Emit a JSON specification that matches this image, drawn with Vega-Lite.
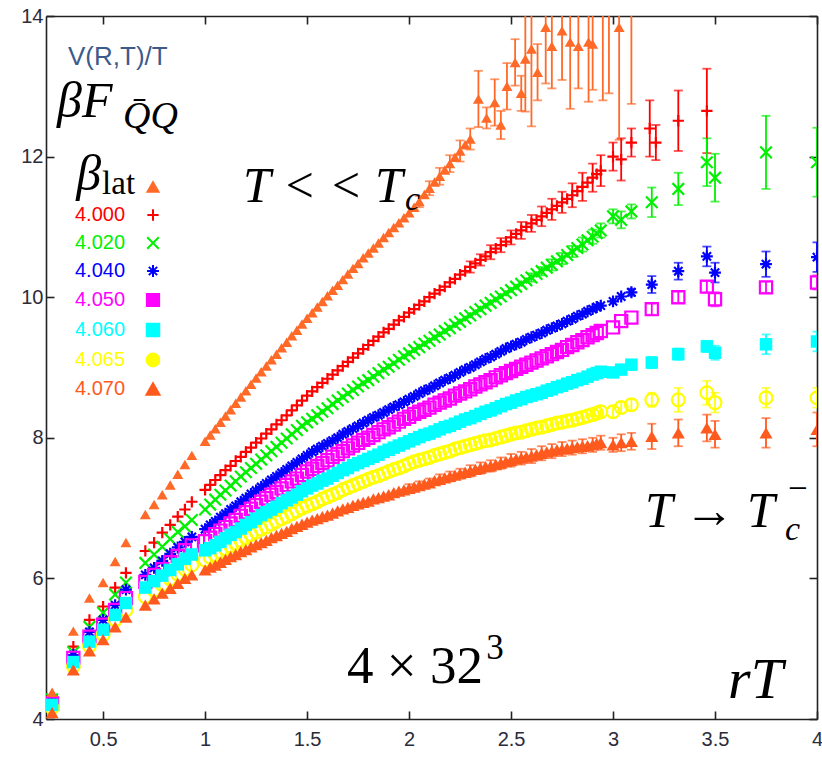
{
"$schema":"https://vega.github.io/schema/vega-lite/v6.json",
"width":771,"height":703,"autosize":"none",
"padding":{"left":46,"top":16,"right":5,"bottom":39},
"background":"white",
"config":{"view":{"stroke":null},
"axis":{"grid":false,"domainColor":"#222","domainWidth":1.6,"tickColor":"#222","tickWidth":1.6,"tickSize":-8,"labelFont":"Liberation Sans","labelFontSize":20,"labelColor":"#2b2b3b"}},
"datasets":{"pts":[
{"b":"T0","x":0.25,"y":4.38},{"b":"T0","x":0.354,"y":5.25},{"b":"T0","x":0.433,"y":5.72},{"b":"T0","x":0.5,"y":5.94},{"b":"T0","x":0.559,"y":6.24},{"b":"T0","x":0.612,"y":6.51},{"b":"T0","x":0.707,"y":6.91},{"b":"T0","x":0.75,"y":7.05},{"b":"T0","x":0.79,"y":7.19},{"b":"T0","x":0.829,"y":7.33},{"b":"T0","x":0.866,"y":7.48},{"b":"T0","x":0.901,"y":7.62},{"b":"T0","x":0.935,"y":7.75},{"b":"T0","x":1.0,"y":7.95},
{"b":"T0","x":1.05,"y":8.13},{"b":"T0","x":1.1,"y":8.31},{"b":"T0","x":1.15,"y":8.49},{"b":"T0","x":1.2,"y":8.67},{"b":"T0","x":1.25,"y":8.85},{"b":"T0","x":1.3,"y":9.02},{"b":"T0","x":1.35,"y":9.19},{"b":"T0","x":1.4,"y":9.36},{"b":"T0","x":1.45,"y":9.53},{"b":"T0","x":1.5,"y":9.7},{"b":"T0","x":1.55,"y":9.86},{"b":"T0","x":1.6,"y":10.02},{"b":"T0","x":1.65,"y":10.17},{"b":"T0","x":1.7,"y":10.33},{"b":"T0","x":1.75,"y":10.48},{"b":"T0","x":1.8,"y":10.63},{"b":"T0","x":1.85,"y":10.77},{"b":"T0","x":1.9,"y":10.92},{"b":"T0","x":1.95,"y":11.06},{"b":"T0","x":2.0,"y":11.2},{"b":"T0","x":2.05,"y":11.36,"e":0.08},{"b":"T0","x":2.1,"y":11.55,"e":0.1},{"b":"T0","x":2.15,"y":11.72,"e":0.12},{"b":"T0","x":2.2,"y":11.9,"e":0.12},{"b":"T0","x":2.25,"y":12.08,"e":0.15},{"b":"T0","x":2.3,"y":12.25,"e":0.15},
{"b":"T0","x":1.025,"y":8.04},{"b":"T0","x":1.075,"y":8.22},{"b":"T0","x":1.125,"y":8.4},{"b":"T0","x":1.175,"y":8.58},{"b":"T0","x":1.225,"y":8.76},{"b":"T0","x":1.275,"y":8.94},{"b":"T0","x":1.325,"y":9.11},{"b":"T0","x":1.375,"y":9.28},{"b":"T0","x":1.425,"y":9.45},{"b":"T0","x":1.475,"y":9.62},{"b":"T0","x":1.525,"y":9.78},{"b":"T0","x":1.575,"y":9.94},{"b":"T0","x":1.625,"y":10.1},{"b":"T0","x":1.675,"y":10.25},{"b":"T0","x":1.725,"y":10.41},{"b":"T0","x":1.775,"y":10.56},{"b":"T0","x":1.825,"y":10.7},{"b":"T0","x":1.875,"y":10.85},{"b":"T0","x":1.925,"y":10.99},{"b":"T0","x":1.975,"y":11.13},{"b":"T0","x":2.025,"y":11.28},{"b":"T0","x":2.075,"y":11.46},{"b":"T0","x":2.125,"y":11.64},{"b":"T0","x":2.175,"y":11.81},{"b":"T0","x":2.225,"y":11.99},{"b":"T0","x":2.275,"y":12.17},
{"b":"T0","x":2.34,"y":12.82,"e":0.4},{"b":"T0","x":2.38,"y":12.55,"e":0.15},{"b":"T0","x":2.42,"y":12.77,"e":0.33},{"b":"T0","x":2.45,"y":12.45,"e":0.2},{"b":"T0","x":2.48,"y":13.0,"e":0.33},{"b":"T0","x":2.52,"y":13.34,"e":0.33},{"b":"T0","x":2.55,"y":12.9,"e":0.25},{"b":"T0","x":2.57,"y":13.39,"e":0.75},{"b":"T0","x":2.6,"y":13.53,"e":1.1},{"b":"T0","x":2.63,"y":13.2,"e":0.4},{"b":"T0","x":2.67,"y":13.84,"e":0.8},{"b":"T0","x":2.7,"y":13.57,"e":0.6},{"b":"T0","x":2.75,"y":13.79,"e":0.7},{"b":"T0","x":2.79,"y":13.63,"e":0.95},{"b":"T0","x":2.83,"y":13.57,"e":0.6},{"b":"T0","x":2.88,"y":13.63,"e":0.85},{"b":"T0","x":2.9,"y":13.6,"e":0.65},{"b":"T0","x":2.95,"y":14.2,"e":1.4},{"b":"T0","x":2.98,"y":14.5,"e":1.6},{"b":"T0","x":3.03,"y":13.84,"e":1.6},{"b":"T0","x":3.09,"y":14.3,"e":1.55},
{"b":"4.000","x":0.25,"y":4.34},{"b":"4.000","x":0.354,"y":5.03},{"b":"4.000","x":0.433,"y":5.41},{"b":"4.000","x":0.5,"y":5.6},{"b":"4.000","x":0.559,"y":5.87},{"b":"4.000","x":0.612,"y":6.08},{"b":"4.000","x":0.707,"y":6.39},{"b":"4.000","x":0.75,"y":6.51},{"b":"4.000","x":0.79,"y":6.65},{"b":"4.000","x":0.829,"y":6.76},{"b":"4.000","x":0.866,"y":6.88},{"b":"4.000","x":0.901,"y":6.98},{"b":"4.000","x":0.935,"y":7.09},{"b":"4.000","x":1.0,"y":7.26},
{"b":"4.000","x":1.05,"y":7.4},{"b":"4.000","x":1.1,"y":7.54},{"b":"4.000","x":1.15,"y":7.67},{"b":"4.000","x":1.2,"y":7.8},{"b":"4.000","x":1.25,"y":7.93},{"b":"4.000","x":1.3,"y":8.06},{"b":"4.000","x":1.35,"y":8.19},{"b":"4.000","x":1.4,"y":8.32},{"b":"4.000","x":1.45,"y":8.46},{"b":"4.000","x":1.5,"y":8.6},{"b":"4.000","x":1.55,"y":8.72},{"b":"4.000","x":1.6,"y":8.84},{"b":"4.000","x":1.65,"y":8.96},{"b":"4.000","x":1.7,"y":9.08},{"b":"4.000","x":1.75,"y":9.2},{"b":"4.000","x":1.8,"y":9.32},{"b":"4.000","x":1.85,"y":9.44},{"b":"4.000","x":1.9,"y":9.55},{"b":"4.000","x":1.95,"y":9.67},{"b":"4.000","x":2.0,"y":9.78},{"b":"4.000","x":2.05,"y":9.89},{"b":"4.000","x":2.1,"y":10.0},{"b":"4.000","x":2.15,"y":10.1},{"b":"4.000","x":2.2,"y":10.21},{"b":"4.000","x":2.25,"y":10.32},{"b":"4.000","x":2.3,"y":10.43,"e":0.08},{"b":"4.000","x":2.35,"y":10.53,"e":0.08},{"b":"4.000","x":2.4,"y":10.64,"e":0.1},{"b":"4.000","x":2.45,"y":10.74,"e":0.1},{"b":"4.000","x":2.5,"y":10.85,"e":0.1},{"b":"4.000","x":2.55,"y":10.95,"e":0.12},{"b":"4.000","x":2.6,"y":11.05,"e":0.12},{"b":"4.000","x":2.65,"y":11.15,"e":0.14},{"b":"4.000","x":2.7,"y":11.25,"e":0.15},{"b":"4.000","x":2.75,"y":11.35,"e":0.15},{"b":"4.000","x":2.8,"y":11.45,"e":0.17},{"b":"4.000","x":2.85,"y":11.57,"e":0.2},{"b":"4.000","x":2.9,"y":11.7,"e":0.2},{"b":"4.000","x":2.94,"y":11.8,"e":0.22},
{"b":"4.000","x":1.025,"y":7.33},{"b":"4.000","x":1.075,"y":7.47},{"b":"4.000","x":1.125,"y":7.6},{"b":"4.000","x":1.175,"y":7.73},{"b":"4.000","x":1.225,"y":7.86},{"b":"4.000","x":1.275,"y":7.99},{"b":"4.000","x":1.325,"y":8.12},{"b":"4.000","x":1.375,"y":8.25},{"b":"4.000","x":1.425,"y":8.39},{"b":"4.000","x":1.475,"y":8.53},{"b":"4.000","x":1.525,"y":8.66},{"b":"4.000","x":1.575,"y":8.78},{"b":"4.000","x":1.625,"y":8.9},{"b":"4.000","x":1.675,"y":9.02},{"b":"4.000","x":1.725,"y":9.14},{"b":"4.000","x":1.775,"y":9.26},{"b":"4.000","x":1.825,"y":9.38},{"b":"4.000","x":1.875,"y":9.5},{"b":"4.000","x":1.925,"y":9.61},{"b":"4.000","x":1.975,"y":9.72},{"b":"4.000","x":2.025,"y":9.83},{"b":"4.000","x":2.075,"y":9.94},{"b":"4.000","x":2.125,"y":10.05},{"b":"4.000","x":2.175,"y":10.15},{"b":"4.000","x":2.225,"y":10.26},{"b":"4.000","x":2.275,"y":10.37},{"b":"4.000","x":2.325,"y":10.48},{"b":"4.000","x":2.375,"y":10.58},{"b":"4.000","x":2.425,"y":10.69},{"b":"4.000","x":2.475,"y":10.79},{"b":"4.000","x":2.525,"y":10.9},{"b":"4.000","x":2.575,"y":11.0},{"b":"4.000","x":2.625,"y":11.1},{"b":"4.000","x":2.675,"y":11.2},{"b":"4.000","x":2.725,"y":11.3},{"b":"4.000","x":2.775,"y":11.4},{"b":"4.000","x":2.825,"y":11.51},{"b":"4.000","x":2.875,"y":11.63},{"b":"4.000","x":2.92,"y":11.75},
{"b":"4.000","x":3.0,"y":12.0,"e":0.2},{"b":"4.000","x":3.04,"y":11.96,"e":0.3},{"b":"4.000","x":3.09,"y":12.2,"e":0.2},{"b":"4.000","x":3.18,"y":12.4,"e":0.4},{"b":"4.000","x":3.21,"y":12.2,"e":0.25},{"b":"4.000","x":3.32,"y":12.51,"e":0.43},{"b":"4.000","x":3.46,"y":12.65,"e":0.6},
{"b":"4.020","x":0.25,"y":4.28},{"b":"4.020","x":0.354,"y":4.95},{"b":"4.020","x":0.433,"y":5.31},{"b":"4.020","x":0.5,"y":5.51},{"b":"4.020","x":0.559,"y":5.77},{"b":"4.020","x":0.612,"y":5.94},{"b":"4.020","x":0.707,"y":6.22},{"b":"4.020","x":0.75,"y":6.34},{"b":"4.020","x":0.79,"y":6.45},{"b":"4.020","x":0.829,"y":6.56},{"b":"4.020","x":0.866,"y":6.66},{"b":"4.020","x":0.901,"y":6.74},{"b":"4.020","x":0.935,"y":6.83},{"b":"4.020","x":1.0,"y":6.98},
{"b":"4.020","x":1.05,"y":7.12},{"b":"4.020","x":1.1,"y":7.25},{"b":"4.020","x":1.15,"y":7.38},{"b":"4.020","x":1.2,"y":7.51},{"b":"4.020","x":1.25,"y":7.63},{"b":"4.020","x":1.3,"y":7.75},{"b":"4.020","x":1.35,"y":7.87},{"b":"4.020","x":1.4,"y":7.99},{"b":"4.020","x":1.45,"y":8.11},{"b":"4.020","x":1.5,"y":8.22},{"b":"4.020","x":1.55,"y":8.32},{"b":"4.020","x":1.6,"y":8.42},{"b":"4.020","x":1.65,"y":8.53},{"b":"4.020","x":1.7,"y":8.63},{"b":"4.020","x":1.75,"y":8.73},{"b":"4.020","x":1.8,"y":8.82},{"b":"4.020","x":1.85,"y":8.92},{"b":"4.020","x":1.9,"y":9.01},{"b":"4.020","x":1.95,"y":9.11},{"b":"4.020","x":2.0,"y":9.2},{"b":"4.020","x":2.05,"y":9.29},{"b":"4.020","x":2.1,"y":9.38},{"b":"4.020","x":2.15,"y":9.47},{"b":"4.020","x":2.2,"y":9.56},{"b":"4.020","x":2.25,"y":9.65},{"b":"4.020","x":2.3,"y":9.74},{"b":"4.020","x":2.35,"y":9.83},{"b":"4.020","x":2.4,"y":9.92},{"b":"4.020","x":2.45,"y":10.01},{"b":"4.020","x":2.5,"y":10.1},{"b":"4.020","x":2.55,"y":10.19},{"b":"4.020","x":2.6,"y":10.28,"e":0.06},{"b":"4.020","x":2.65,"y":10.37,"e":0.06},{"b":"4.020","x":2.7,"y":10.46,"e":0.08},{"b":"4.020","x":2.75,"y":10.55,"e":0.08},{"b":"4.020","x":2.8,"y":10.65,"e":0.08},{"b":"4.020","x":2.85,"y":10.75,"e":0.1},{"b":"4.020","x":2.9,"y":10.86,"e":0.1},{"b":"4.020","x":2.94,"y":10.95,"e":0.1},
{"b":"4.020","x":1.025,"y":7.05},{"b":"4.020","x":1.075,"y":7.19},{"b":"4.020","x":1.125,"y":7.32},{"b":"4.020","x":1.175,"y":7.45},{"b":"4.020","x":1.225,"y":7.57},{"b":"4.020","x":1.275,"y":7.69},{"b":"4.020","x":1.325,"y":7.81},{"b":"4.020","x":1.375,"y":7.93},{"b":"4.020","x":1.425,"y":8.05},{"b":"4.020","x":1.475,"y":8.17},{"b":"4.020","x":1.525,"y":8.27},{"b":"4.020","x":1.575,"y":8.37},{"b":"4.020","x":1.625,"y":8.48},{"b":"4.020","x":1.675,"y":8.58},{"b":"4.020","x":1.725,"y":8.68},{"b":"4.020","x":1.775,"y":8.78},{"b":"4.020","x":1.825,"y":8.87},{"b":"4.020","x":1.875,"y":8.97},{"b":"4.020","x":1.925,"y":9.06},{"b":"4.020","x":1.975,"y":9.16},{"b":"4.020","x":2.025,"y":9.25},{"b":"4.020","x":2.075,"y":9.34},{"b":"4.020","x":2.125,"y":9.43},{"b":"4.020","x":2.175,"y":9.52},{"b":"4.020","x":2.225,"y":9.61},{"b":"4.020","x":2.275,"y":9.7},{"b":"4.020","x":2.325,"y":9.79},{"b":"4.020","x":2.375,"y":9.88},{"b":"4.020","x":2.425,"y":9.97},{"b":"4.020","x":2.475,"y":10.06},{"b":"4.020","x":2.525,"y":10.15},{"b":"4.020","x":2.575,"y":10.24},{"b":"4.020","x":2.625,"y":10.33},{"b":"4.020","x":2.675,"y":10.42},{"b":"4.020","x":2.725,"y":10.51},{"b":"4.020","x":2.775,"y":10.6},{"b":"4.020","x":2.825,"y":10.7},{"b":"4.020","x":2.875,"y":10.81},{"b":"4.020","x":2.92,"y":10.91},
{"b":"4.020","x":3.0,"y":11.15,"e":0.1},{"b":"4.020","x":3.04,"y":11.1,"e":0.12},{"b":"4.020","x":3.09,"y":11.22,"e":0.1},{"b":"4.020","x":3.19,"y":11.35,"e":0.21},{"b":"4.020","x":3.32,"y":11.54,"e":0.23},{"b":"4.020","x":3.46,"y":11.92,"e":0.34},{"b":"4.020","x":3.5,"y":11.7,"e":0.34},{"b":"4.020","x":3.75,"y":12.06,"e":0.52},{"b":"4.020","x":4.0,"y":11.92,"e":0.49},
{"b":"4.040","x":0.25,"y":4.24},{"b":"4.040","x":0.354,"y":4.91},{"b":"4.040","x":0.433,"y":5.24},{"b":"4.040","x":0.5,"y":5.41},{"b":"4.040","x":0.559,"y":5.62},{"b":"4.040","x":0.612,"y":5.84},{"b":"4.040","x":0.707,"y":6.05},{"b":"4.040","x":0.75,"y":6.15},{"b":"4.040","x":0.79,"y":6.25},{"b":"4.040","x":0.829,"y":6.35},{"b":"4.040","x":0.866,"y":6.44},{"b":"4.040","x":0.901,"y":6.52},{"b":"4.040","x":0.935,"y":6.59},{"b":"4.040","x":1.0,"y":6.7},
{"b":"4.040","x":1.05,"y":6.81},{"b":"4.040","x":1.1,"y":6.92},{"b":"4.040","x":1.15,"y":7.03},{"b":"4.040","x":1.2,"y":7.14},{"b":"4.040","x":1.25,"y":7.25},{"b":"4.040","x":1.3,"y":7.35},{"b":"4.040","x":1.35,"y":7.45},{"b":"4.040","x":1.4,"y":7.55},{"b":"4.040","x":1.45,"y":7.65},{"b":"4.040","x":1.5,"y":7.75},{"b":"4.040","x":1.55,"y":7.84},{"b":"4.040","x":1.6,"y":7.92},{"b":"4.040","x":1.65,"y":8.0},{"b":"4.040","x":1.7,"y":8.09},{"b":"4.040","x":1.75,"y":8.17},{"b":"4.040","x":1.8,"y":8.25},{"b":"4.040","x":1.85,"y":8.32},{"b":"4.040","x":1.9,"y":8.4},{"b":"4.040","x":1.95,"y":8.47},{"b":"4.040","x":2.0,"y":8.55},{"b":"4.040","x":2.05,"y":8.63},{"b":"4.040","x":2.1,"y":8.7},{"b":"4.040","x":2.15,"y":8.78},{"b":"4.040","x":2.2,"y":8.85},{"b":"4.040","x":2.25,"y":8.93},{"b":"4.040","x":2.3,"y":9.0},{"b":"4.040","x":2.35,"y":9.08},{"b":"4.040","x":2.4,"y":9.15},{"b":"4.040","x":2.45,"y":9.23},{"b":"4.040","x":2.5,"y":9.3},{"b":"4.040","x":2.55,"y":9.36},{"b":"4.040","x":2.6,"y":9.43},{"b":"4.040","x":2.65,"y":9.49},{"b":"4.040","x":2.7,"y":9.56},{"b":"4.040","x":2.75,"y":9.62},{"b":"4.040","x":2.8,"y":9.69},{"b":"4.040","x":2.85,"y":9.76},{"b":"4.040","x":2.9,"y":9.83},{"b":"4.040","x":2.94,"y":9.88},
{"b":"4.040","x":1.025,"y":6.76},{"b":"4.040","x":1.075,"y":6.87},{"b":"4.040","x":1.125,"y":6.98},{"b":"4.040","x":1.175,"y":7.09},{"b":"4.040","x":1.225,"y":7.2},{"b":"4.040","x":1.275,"y":7.3},{"b":"4.040","x":1.325,"y":7.4},{"b":"4.040","x":1.375,"y":7.5},{"b":"4.040","x":1.425,"y":7.6},{"b":"4.040","x":1.475,"y":7.7},{"b":"4.040","x":1.525,"y":7.8},{"b":"4.040","x":1.575,"y":7.88},{"b":"4.040","x":1.625,"y":7.96},{"b":"4.040","x":1.675,"y":8.05},{"b":"4.040","x":1.725,"y":8.13},{"b":"4.040","x":1.775,"y":8.21},{"b":"4.040","x":1.825,"y":8.29},{"b":"4.040","x":1.875,"y":8.36},{"b":"4.040","x":1.925,"y":8.44},{"b":"4.040","x":1.975,"y":8.51},{"b":"4.040","x":2.025,"y":8.59},{"b":"4.040","x":2.075,"y":8.67},{"b":"4.040","x":2.125,"y":8.74},{"b":"4.040","x":2.175,"y":8.82},{"b":"4.040","x":2.225,"y":8.89},{"b":"4.040","x":2.275,"y":8.97},{"b":"4.040","x":2.325,"y":9.04},{"b":"4.040","x":2.375,"y":9.12},{"b":"4.040","x":2.425,"y":9.19},{"b":"4.040","x":2.475,"y":9.27},{"b":"4.040","x":2.525,"y":9.33},{"b":"4.040","x":2.575,"y":9.4},{"b":"4.040","x":2.625,"y":9.46},{"b":"4.040","x":2.675,"y":9.53},{"b":"4.040","x":2.725,"y":9.59},{"b":"4.040","x":2.775,"y":9.66},{"b":"4.040","x":2.825,"y":9.73},{"b":"4.040","x":2.875,"y":9.8},{"b":"4.040","x":2.92,"y":9.86},
{"b":"4.040","x":3.0,"y":9.94},{"b":"4.040","x":3.04,"y":10.01},{"b":"4.040","x":3.09,"y":10.07,"e":0.05},{"b":"4.040","x":3.19,"y":10.18,"e":0.12},{"b":"4.040","x":3.32,"y":10.37,"e":0.12},{"b":"4.040","x":3.46,"y":10.58,"e":0.14},{"b":"4.040","x":3.5,"y":10.35,"e":0.14},{"b":"4.040","x":3.75,"y":10.47,"e":0.18},{"b":"4.040","x":4.0,"y":10.57,"e":0.21},
{"b":"4.050","x":0.25,"y":4.22},{"b":"4.050","x":0.354,"y":4.87},{"b":"4.050","x":0.433,"y":5.17},{"b":"4.050","x":0.5,"y":5.34},{"b":"4.050","x":0.559,"y":5.55},{"b":"4.050","x":0.612,"y":5.72},{"b":"4.050","x":0.707,"y":5.95},{"b":"4.050","x":0.75,"y":6.05},{"b":"4.050","x":0.79,"y":6.13},{"b":"4.050","x":0.829,"y":6.23},{"b":"4.050","x":0.866,"y":6.32},{"b":"4.050","x":0.901,"y":6.4},{"b":"4.050","x":0.935,"y":6.47},{"b":"4.050","x":1.0,"y":6.53},
{"b":"4.050","x":1.05,"y":6.63},{"b":"4.050","x":1.1,"y":6.73},{"b":"4.050","x":1.15,"y":6.83},{"b":"4.050","x":1.2,"y":6.94},{"b":"4.050","x":1.25,"y":7.04},{"b":"4.050","x":1.3,"y":7.14},{"b":"4.050","x":1.35,"y":7.23},{"b":"4.050","x":1.4,"y":7.33},{"b":"4.050","x":1.45,"y":7.42},{"b":"4.050","x":1.5,"y":7.52},{"b":"4.050","x":1.55,"y":7.6},{"b":"4.050","x":1.6,"y":7.68},{"b":"4.050","x":1.65,"y":7.77},{"b":"4.050","x":1.7,"y":7.85},{"b":"4.050","x":1.75,"y":7.93},{"b":"4.050","x":1.8,"y":8.0},{"b":"4.050","x":1.85,"y":8.08},{"b":"4.050","x":1.9,"y":8.15},{"b":"4.050","x":1.95,"y":8.23},{"b":"4.050","x":2.0,"y":8.3},{"b":"4.050","x":2.05,"y":8.37},{"b":"4.050","x":2.1,"y":8.43},{"b":"4.050","x":2.15,"y":8.5},{"b":"4.050","x":2.2,"y":8.56},{"b":"4.050","x":2.25,"y":8.63},{"b":"4.050","x":2.3,"y":8.69},{"b":"4.050","x":2.35,"y":8.76},{"b":"4.050","x":2.4,"y":8.82},{"b":"4.050","x":2.45,"y":8.89},{"b":"4.050","x":2.5,"y":8.95},{"b":"4.050","x":2.55,"y":9.01},{"b":"4.050","x":2.6,"y":9.07},{"b":"4.050","x":2.65,"y":9.13},{"b":"4.050","x":2.7,"y":9.19},{"b":"4.050","x":2.75,"y":9.25},{"b":"4.050","x":2.8,"y":9.32},{"b":"4.050","x":2.85,"y":9.39},{"b":"4.050","x":2.9,"y":9.46},{"b":"4.050","x":2.94,"y":9.52},
{"b":"4.050","x":1.025,"y":6.58},{"b":"4.050","x":1.075,"y":6.68},{"b":"4.050","x":1.125,"y":6.78},{"b":"4.050","x":1.175,"y":6.89},{"b":"4.050","x":1.225,"y":6.99},{"b":"4.050","x":1.275,"y":7.09},{"b":"4.050","x":1.325,"y":7.19},{"b":"4.050","x":1.375,"y":7.28},{"b":"4.050","x":1.425,"y":7.38},{"b":"4.050","x":1.475,"y":7.47},{"b":"4.050","x":1.525,"y":7.56},{"b":"4.050","x":1.575,"y":7.64},{"b":"4.050","x":1.625,"y":7.73},{"b":"4.050","x":1.675,"y":7.81},{"b":"4.050","x":1.725,"y":7.89},{"b":"4.050","x":1.775,"y":7.97},{"b":"4.050","x":1.825,"y":8.04},{"b":"4.050","x":1.875,"y":8.12},{"b":"4.050","x":1.925,"y":8.19},{"b":"4.050","x":1.975,"y":8.27},{"b":"4.050","x":2.025,"y":8.34},{"b":"4.050","x":2.075,"y":8.4},{"b":"4.050","x":2.125,"y":8.47},{"b":"4.050","x":2.175,"y":8.53},{"b":"4.050","x":2.225,"y":8.6},{"b":"4.050","x":2.275,"y":8.66},{"b":"4.050","x":2.325,"y":8.73},{"b":"4.050","x":2.375,"y":8.79},{"b":"4.050","x":2.425,"y":8.86},{"b":"4.050","x":2.475,"y":8.92},{"b":"4.050","x":2.525,"y":8.98},{"b":"4.050","x":2.575,"y":9.04},{"b":"4.050","x":2.625,"y":9.1},{"b":"4.050","x":2.675,"y":9.16},{"b":"4.050","x":2.725,"y":9.22},{"b":"4.050","x":2.775,"y":9.29},{"b":"4.050","x":2.825,"y":9.36},{"b":"4.050","x":2.875,"y":9.43},{"b":"4.050","x":2.92,"y":9.49},
{"b":"4.050","x":3.0,"y":9.57},{"b":"4.050","x":3.04,"y":9.66},{"b":"4.050","x":3.09,"y":9.71},{"b":"4.050","x":3.19,"y":9.83,"e":0.08},{"b":"4.050","x":3.32,"y":10.0,"e":0.08},{"b":"4.050","x":3.46,"y":10.15,"e":0.08},{"b":"4.050","x":3.5,"y":9.97,"e":0.1},{"b":"4.050","x":3.75,"y":10.14,"e":0.08},{"b":"4.050","x":4.0,"y":10.21,"e":0.1},
{"b":"4.060","x":0.25,"y":4.2},{"b":"4.060","x":0.354,"y":4.81},{"b":"4.060","x":0.433,"y":5.1},{"b":"4.060","x":0.5,"y":5.27},{"b":"4.060","x":0.559,"y":5.48},{"b":"4.060","x":0.612,"y":5.65},{"b":"4.060","x":0.707,"y":5.87},{"b":"4.060","x":0.75,"y":5.96},{"b":"4.060","x":0.79,"y":6.04},{"b":"4.060","x":0.829,"y":6.12},{"b":"4.060","x":0.866,"y":6.2},{"b":"4.060","x":0.901,"y":6.28},{"b":"4.060","x":0.935,"y":6.34},{"b":"4.060","x":1.0,"y":6.4},
{"b":"4.060","x":1.05,"y":6.47},{"b":"4.060","x":1.1,"y":6.57},{"b":"4.060","x":1.15,"y":6.66},{"b":"4.060","x":1.2,"y":6.76},{"b":"4.060","x":1.25,"y":6.85},{"b":"4.060","x":1.3,"y":6.94},{"b":"4.060","x":1.35,"y":7.02},{"b":"4.060","x":1.4,"y":7.11},{"b":"4.060","x":1.45,"y":7.19},{"b":"4.060","x":1.5,"y":7.28},{"b":"4.060","x":1.55,"y":7.35},{"b":"4.060","x":1.6,"y":7.42},{"b":"4.060","x":1.65,"y":7.5},{"b":"4.060","x":1.7,"y":7.57},{"b":"4.060","x":1.75,"y":7.64},{"b":"4.060","x":1.8,"y":7.7},{"b":"4.060","x":1.85,"y":7.76},{"b":"4.060","x":1.9,"y":7.83},{"b":"4.060","x":1.95,"y":7.89},{"b":"4.060","x":2.0,"y":7.95},{"b":"4.060","x":2.05,"y":8.01},{"b":"4.060","x":2.1,"y":8.06},{"b":"4.060","x":2.15,"y":8.12},{"b":"4.060","x":2.2,"y":8.17},{"b":"4.060","x":2.25,"y":8.23},{"b":"4.060","x":2.3,"y":8.28},{"b":"4.060","x":2.35,"y":8.34},{"b":"4.060","x":2.4,"y":8.39},{"b":"4.060","x":2.45,"y":8.45},{"b":"4.060","x":2.5,"y":8.5},{"b":"4.060","x":2.55,"y":8.55},{"b":"4.060","x":2.6,"y":8.6},{"b":"4.060","x":2.65,"y":8.64},{"b":"4.060","x":2.7,"y":8.69},{"b":"4.060","x":2.75,"y":8.74},{"b":"4.060","x":2.8,"y":8.79},{"b":"4.060","x":2.85,"y":8.84},{"b":"4.060","x":2.9,"y":8.9},{"b":"4.060","x":2.94,"y":8.94},
{"b":"4.060","x":1.025,"y":6.43},{"b":"4.060","x":1.075,"y":6.52},{"b":"4.060","x":1.125,"y":6.62},{"b":"4.060","x":1.175,"y":6.71},{"b":"4.060","x":1.225,"y":6.8},{"b":"4.060","x":1.275,"y":6.9},{"b":"4.060","x":1.325,"y":6.98},{"b":"4.060","x":1.375,"y":7.07},{"b":"4.060","x":1.425,"y":7.15},{"b":"4.060","x":1.475,"y":7.24},{"b":"4.060","x":1.525,"y":7.32},{"b":"4.060","x":1.575,"y":7.39},{"b":"4.060","x":1.625,"y":7.46},{"b":"4.060","x":1.675,"y":7.54},{"b":"4.060","x":1.725,"y":7.61},{"b":"4.060","x":1.775,"y":7.67},{"b":"4.060","x":1.825,"y":7.73},{"b":"4.060","x":1.875,"y":7.8},{"b":"4.060","x":1.925,"y":7.86},{"b":"4.060","x":1.975,"y":7.92},{"b":"4.060","x":2.025,"y":7.98},{"b":"4.060","x":2.075,"y":8.04},{"b":"4.060","x":2.125,"y":8.09},{"b":"4.060","x":2.175,"y":8.15},{"b":"4.060","x":2.225,"y":8.2},{"b":"4.060","x":2.275,"y":8.26},{"b":"4.060","x":2.325,"y":8.31},{"b":"4.060","x":2.375,"y":8.37},{"b":"4.060","x":2.425,"y":8.42},{"b":"4.060","x":2.475,"y":8.48},{"b":"4.060","x":2.525,"y":8.53},{"b":"4.060","x":2.575,"y":8.58},{"b":"4.060","x":2.625,"y":8.62},{"b":"4.060","x":2.675,"y":8.67},{"b":"4.060","x":2.725,"y":8.72},{"b":"4.060","x":2.775,"y":8.77},{"b":"4.060","x":2.825,"y":8.82},{"b":"4.060","x":2.875,"y":8.87},{"b":"4.060","x":2.92,"y":8.92},
{"b":"4.060","x":3.0,"y":8.93},{"b":"4.060","x":3.04,"y":8.97},{"b":"4.060","x":3.09,"y":9.04},{"b":"4.060","x":3.19,"y":9.07,"e":0.08},{"b":"4.060","x":3.32,"y":9.19,"e":0.08},{"b":"4.060","x":3.46,"y":9.3,"e":0.08},{"b":"4.060","x":3.5,"y":9.21,"e":0.1},{"b":"4.060","x":3.75,"y":9.33,"e":0.14},{"b":"4.060","x":4.0,"y":9.37,"e":0.14},
{"b":"4.065","x":0.25,"y":4.16},{"b":"4.065","x":0.354,"y":4.75},{"b":"4.065","x":0.433,"y":5.04},{"b":"4.065","x":0.5,"y":5.2},{"b":"4.065","x":0.559,"y":5.41},{"b":"4.065","x":0.612,"y":5.55},{"b":"4.065","x":0.707,"y":5.74},{"b":"4.065","x":0.75,"y":5.83},{"b":"4.065","x":0.79,"y":5.91},{"b":"4.065","x":0.829,"y":5.99},{"b":"4.065","x":0.866,"y":6.06},{"b":"4.065","x":0.901,"y":6.13},{"b":"4.065","x":0.935,"y":6.19},{"b":"4.065","x":1.0,"y":6.26},
{"b":"4.065","x":1.05,"y":6.33},{"b":"4.065","x":1.1,"y":6.42},{"b":"4.065","x":1.15,"y":6.5},{"b":"4.065","x":1.2,"y":6.58},{"b":"4.065","x":1.25,"y":6.66},{"b":"4.065","x":1.3,"y":6.73},{"b":"4.065","x":1.35,"y":6.81},{"b":"4.065","x":1.4,"y":6.88},{"b":"4.065","x":1.45,"y":6.96},{"b":"4.065","x":1.5,"y":7.03},{"b":"4.065","x":1.55,"y":7.09},{"b":"4.065","x":1.6,"y":7.16},{"b":"4.065","x":1.65,"y":7.22},{"b":"4.065","x":1.7,"y":7.29},{"b":"4.065","x":1.75,"y":7.35},{"b":"4.065","x":1.8,"y":7.41},{"b":"4.065","x":1.85,"y":7.46},{"b":"4.065","x":1.9,"y":7.52},{"b":"4.065","x":1.95,"y":7.57},{"b":"4.065","x":2.0,"y":7.63},{"b":"4.065","x":2.05,"y":7.68},{"b":"4.065","x":2.1,"y":7.72},{"b":"4.065","x":2.15,"y":7.77},{"b":"4.065","x":2.2,"y":7.81},{"b":"4.065","x":2.25,"y":7.86},{"b":"4.065","x":2.3,"y":7.9},{"b":"4.065","x":2.35,"y":7.94},{"b":"4.065","x":2.4,"y":7.97},{"b":"4.065","x":2.45,"y":8.01},{"b":"4.065","x":2.5,"y":8.05,"e":0.06},{"b":"4.065","x":2.55,"y":8.08,"e":0.06},{"b":"4.065","x":2.6,"y":8.12,"e":0.06},{"b":"4.065","x":2.65,"y":8.15,"e":0.07},{"b":"4.065","x":2.7,"y":8.19,"e":0.07},{"b":"4.065","x":2.75,"y":8.22,"e":0.07},{"b":"4.065","x":2.8,"y":8.25,"e":0.08},{"b":"4.065","x":2.85,"y":8.29,"e":0.08},{"b":"4.065","x":2.9,"y":8.33,"e":0.08},{"b":"4.065","x":2.94,"y":8.37,"e":0.08},
{"b":"4.065","x":1.025,"y":6.3},{"b":"4.065","x":1.075,"y":6.38},{"b":"4.065","x":1.125,"y":6.46},{"b":"4.065","x":1.175,"y":6.54},{"b":"4.065","x":1.225,"y":6.62},{"b":"4.065","x":1.275,"y":6.7},{"b":"4.065","x":1.325,"y":6.77},{"b":"4.065","x":1.375,"y":6.85},{"b":"4.065","x":1.425,"y":6.92},{"b":"4.065","x":1.475,"y":7.0},{"b":"4.065","x":1.525,"y":7.06},{"b":"4.065","x":1.575,"y":7.13},{"b":"4.065","x":1.625,"y":7.19},{"b":"4.065","x":1.675,"y":7.26},{"b":"4.065","x":1.725,"y":7.32},{"b":"4.065","x":1.775,"y":7.38},{"b":"4.065","x":1.825,"y":7.44},{"b":"4.065","x":1.875,"y":7.49},{"b":"4.065","x":1.925,"y":7.55},{"b":"4.065","x":1.975,"y":7.6},{"b":"4.065","x":2.025,"y":7.66},{"b":"4.065","x":2.075,"y":7.7},{"b":"4.065","x":2.125,"y":7.75},{"b":"4.065","x":2.175,"y":7.79},{"b":"4.065","x":2.225,"y":7.84},{"b":"4.065","x":2.275,"y":7.88},{"b":"4.065","x":2.325,"y":7.92},{"b":"4.065","x":2.375,"y":7.96},{"b":"4.065","x":2.425,"y":7.99},{"b":"4.065","x":2.475,"y":8.03},{"b":"4.065","x":2.525,"y":8.07},{"b":"4.065","x":2.575,"y":8.1},{"b":"4.065","x":2.625,"y":8.14},{"b":"4.065","x":2.675,"y":8.17},{"b":"4.065","x":2.725,"y":8.21},{"b":"4.065","x":2.775,"y":8.24},{"b":"4.065","x":2.825,"y":8.27},{"b":"4.065","x":2.875,"y":8.31},{"b":"4.065","x":2.92,"y":8.35},
{"b":"4.065","x":3.0,"y":8.37,"e":0.08},{"b":"4.065","x":3.04,"y":8.43,"e":0.08},{"b":"4.065","x":3.09,"y":8.47,"e":0.08},{"b":"4.065","x":3.19,"y":8.54,"e":0.1},{"b":"4.065","x":3.32,"y":8.54,"e":0.17},{"b":"4.065","x":3.46,"y":8.64,"e":0.17},{"b":"4.065","x":3.5,"y":8.5,"e":0.14},{"b":"4.065","x":3.75,"y":8.57,"e":0.14},{"b":"4.065","x":4.0,"y":8.57,"e":0.14},
{"b":"4.070","x":0.25,"y":4.09},{"b":"4.070","x":0.354,"y":4.7},{"b":"4.070","x":0.433,"y":4.97},{"b":"4.070","x":0.5,"y":5.13},{"b":"4.070","x":0.559,"y":5.31},{"b":"4.070","x":0.612,"y":5.45},{"b":"4.070","x":0.707,"y":5.62},{"b":"4.070","x":0.75,"y":5.71},{"b":"4.070","x":0.79,"y":5.79},{"b":"4.070","x":0.829,"y":5.86},{"b":"4.070","x":0.866,"y":5.93},{"b":"4.070","x":0.901,"y":6.0},{"b":"4.070","x":0.935,"y":6.05},{"b":"4.070","x":1.0,"y":6.12},
{"b":"4.070","x":1.05,"y":6.19},{"b":"4.070","x":1.1,"y":6.27},{"b":"4.070","x":1.15,"y":6.34},{"b":"4.070","x":1.2,"y":6.41},{"b":"4.070","x":1.25,"y":6.48},{"b":"4.070","x":1.3,"y":6.54},{"b":"4.070","x":1.35,"y":6.61},{"b":"4.070","x":1.4,"y":6.67},{"b":"4.070","x":1.45,"y":6.74},{"b":"4.070","x":1.5,"y":6.8},{"b":"4.070","x":1.55,"y":6.85},{"b":"4.070","x":1.6,"y":6.9},{"b":"4.070","x":1.65,"y":6.96},{"b":"4.070","x":1.7,"y":7.01},{"b":"4.070","x":1.75,"y":7.06},{"b":"4.070","x":1.8,"y":7.1},{"b":"4.070","x":1.85,"y":7.15},{"b":"4.070","x":1.9,"y":7.19},{"b":"4.070","x":1.95,"y":7.24},{"b":"4.070","x":2.0,"y":7.28,"e":0.06},{"b":"4.070","x":2.05,"y":7.32,"e":0.06},{"b":"4.070","x":2.1,"y":7.36,"e":0.06},{"b":"4.070","x":2.15,"y":7.41,"e":0.07},{"b":"4.070","x":2.2,"y":7.45,"e":0.07},{"b":"4.070","x":2.25,"y":7.49,"e":0.07},{"b":"4.070","x":2.3,"y":7.53,"e":0.08},{"b":"4.070","x":2.35,"y":7.57,"e":0.08},{"b":"4.070","x":2.4,"y":7.6,"e":0.08},{"b":"4.070","x":2.45,"y":7.64,"e":0.08},{"b":"4.070","x":2.5,"y":7.68,"e":0.09},{"b":"4.070","x":2.55,"y":7.71,"e":0.09},{"b":"4.070","x":2.6,"y":7.74,"e":0.1},{"b":"4.070","x":2.65,"y":7.78,"e":0.1},{"b":"4.070","x":2.7,"y":7.81,"e":0.1},{"b":"4.070","x":2.75,"y":7.84,"e":0.1},{"b":"4.070","x":2.8,"y":7.86,"e":0.1},{"b":"4.070","x":2.85,"y":7.88,"e":0.1},{"b":"4.070","x":2.9,"y":7.9,"e":0.1},{"b":"4.070","x":2.94,"y":7.93,"e":0.1},
{"b":"4.070","x":1.025,"y":6.16},{"b":"4.070","x":1.075,"y":6.23},{"b":"4.070","x":1.125,"y":6.31},{"b":"4.070","x":1.175,"y":6.38},{"b":"4.070","x":1.225,"y":6.45},{"b":"4.070","x":1.275,"y":6.51},{"b":"4.070","x":1.325,"y":6.58},{"b":"4.070","x":1.375,"y":6.64},{"b":"4.070","x":1.425,"y":6.71},{"b":"4.070","x":1.475,"y":6.77},{"b":"4.070","x":1.525,"y":6.83},{"b":"4.070","x":1.575,"y":6.88},{"b":"4.070","x":1.625,"y":6.93},{"b":"4.070","x":1.675,"y":6.99},{"b":"4.070","x":1.725,"y":7.04},{"b":"4.070","x":1.775,"y":7.08},{"b":"4.070","x":1.825,"y":7.13},{"b":"4.070","x":1.875,"y":7.17},{"b":"4.070","x":1.925,"y":7.22},{"b":"4.070","x":1.975,"y":7.26},{"b":"4.070","x":2.025,"y":7.3},{"b":"4.070","x":2.075,"y":7.34},{"b":"4.070","x":2.125,"y":7.39},{"b":"4.070","x":2.175,"y":7.43},{"b":"4.070","x":2.225,"y":7.47},{"b":"4.070","x":2.275,"y":7.51},{"b":"4.070","x":2.325,"y":7.55},{"b":"4.070","x":2.375,"y":7.59},{"b":"4.070","x":2.425,"y":7.62},{"b":"4.070","x":2.475,"y":7.66},{"b":"4.070","x":2.525,"y":7.7},{"b":"4.070","x":2.575,"y":7.73},{"b":"4.070","x":2.625,"y":7.76},{"b":"4.070","x":2.675,"y":7.8},{"b":"4.070","x":2.725,"y":7.83},{"b":"4.070","x":2.775,"y":7.85},{"b":"4.070","x":2.825,"y":7.87},{"b":"4.070","x":2.875,"y":7.89},{"b":"4.070","x":2.92,"y":7.92},
{"b":"4.070","x":3.0,"y":7.9,"e":0.1},{"b":"4.070","x":3.04,"y":7.93,"e":0.12},{"b":"4.070","x":3.09,"y":7.95,"e":0.12},{"b":"4.070","x":3.19,"y":8.02,"e":0.18},{"b":"4.070","x":3.32,"y":8.07,"e":0.19},{"b":"4.070","x":3.46,"y":8.14,"e":0.19},{"b":"4.070","x":3.5,"y":8.05,"e":0.19},{"b":"4.070","x":3.75,"y":8.07,"e":0.21},{"b":"4.070","x":4.0,"y":8.12,"e":0.24}
]},
"layer":[
{"layer":[
{"data":{"name":"pts"},"transform":[{"filter":"datum.e > 0"}],
 "mark":{"type":"errorbar","ticks":{"size":9},"thickness":1.8,"clip":true},
 "encoding":{
  "x":{"field":"x","type":"quantitative","title":null,"scale":{"domain":[0.22,4],"nice":false,"zero":false},
   "axis":{"orient":"bottom","values":[0.5,1,1.5,2,2.5,3,3.5,4],"labelExpr":"'' + datum.value","labelPadding":18,"labelFlush":false}},
  "y":{"field":"y","type":"quantitative","title":null,"scale":{"domain":[4,14],"nice":false,"zero":false},
   "axis":{"orient":"left","values":[4,6,8,10,12,14],"labelExpr":"'' + datum.value","labelPadding":11}},
  "yError":{"field":"e"},
  "color":{"field":"b","type":"nominal","scale":{"domain":["T0","4.000","4.020","4.040","4.050","4.060","4.065","4.070"],"range":["#ff6a28","#ff0000","#00f000","#0000ff","#ff00ff","#00ffff","#ffff00","#ff5a1e"]},
   "legend":{"orient":"none","legendX":97,"legendY":161,"title":null,"labelFont":"Liberation Sans","labelFontSize":20,"labelOffset":-88,"rowPadding":8,"symbolStrokeWidth":2,
    "labelExpr":"datum.label == 'T0' ? '' : datum.label",
    "encode":{"labels":{"update":{"fill":{"scale":"color","field":"value"}}}}}}
 }},
{"data":{"name":"pts"},"transform":[{"filter":"indexof(['4.000','4.020','4.040','4.050','4.065'], datum.b) >= 0"}],
 "mark":{"type":"point","filled":false,"strokeWidth":2.2,"opacity":1,"clip":true},
 "encoding":{
  "x":{"field":"x","type":"quantitative","title":null,"scale":{"domain":[0.22,4],"nice":false,"zero":false}},
  "y":{"field":"y","type":"quantitative","title":null,"scale":{"domain":[4,14],"nice":false,"zero":false}},
  "color":{"field":"b","type":"nominal"},
  "shape":{"field":"b","type":"nominal","legend":null,"scale":{"domain":["T0","4.000","4.020","4.040","4.050","4.060","4.065","4.070"],"range":["triangle-up","M-1,0H1M0,-1V1","M-1,-1L1,1M-1,1L1,-1","M-1,0H1M0,-1V1M-0.7,-0.7L0.7,0.7M-0.7,0.7L0.7,-0.7","square","square","circle","triangle-up"]}},
  "size":{"field":"b","type":"nominal","legend":null,"scale":{"domain":["T0","4.000","4.020","4.040","4.050","4.060","4.065","4.070"],"range":[120,170,130,150,85,110,85,120]}}
 }},
{"data":{"name":"pts"},"transform":[{"filter":"indexof(['T0','4.060','4.070'], datum.b) >= 0"}],
 "mark":{"type":"point","filled":true,"opacity":1,"clip":true},
 "encoding":{
  "x":{"field":"x","type":"quantitative","title":null,"scale":{"domain":[0.22,4],"nice":false,"zero":false}},
  "y":{"field":"y","type":"quantitative","title":null,"scale":{"domain":[4,14],"nice":false,"zero":false}},
  "color":{"field":"b","type":"nominal"},
  "shape":{"field":"b","type":"nominal","legend":null},
  "size":{"field":"b","type":"nominal","legend":null}
 }},
{"data":{"values":[{"t":"V(R,T)/T","x":0.328,"y":13.3}]},
 "mark":{"type":"text","font":"Liberation Sans","fontSize":26,"align":"left","baseline":"alphabetic","color":"#3d5b8a"},
 "encoding":{"x":{"field":"x","type":"quantitative","title":null},"y":{"field":"y","type":"quantitative","title":null},"text":{"field":"t"}}},
{"data":{"values":[{"t":"βF","x":0.274,"y":12.563},{"t":"β","x":0.368,"y":11.525}]},
 "mark":{"type":"text","font":"Liberation Serif","fontStyle":"italic","fontSize":50,"align":"left","baseline":"alphabetic","color":"black"},
 "encoding":{"x":{"field":"x","type":"quantitative","title":null},"y":{"field":"y","type":"quantitative","title":null},"text":{"field":"t"}}},
{"data":{"values":[{"t":"Q̄Q","x":0.598,"y":12.407}]},
 "mark":{"type":"text","font":"Liberation Serif","fontStyle":"italic","fontSize":38,"align":"left","baseline":"alphabetic","color":"black"},
 "encoding":{"x":{"field":"x","type":"quantitative","title":null},"y":{"field":"y","type":"quantitative","title":null},"text":{"field":"t"}}},
{"data":{"values":[{"t":"lat","x":0.495,"y":11.468}]},
 "mark":{"type":"text","font":"Liberation Serif","fontSize":33,"align":"left","baseline":"alphabetic","color":"black"},
 "encoding":{"x":{"field":"x","type":"quantitative","title":null},"y":{"field":"y","type":"quantitative","title":null},"text":{"field":"t"}}},
{"data":{"values":[{"t":"T < < T","x":1.186,"y":11.354},{"t":"T → T","x":3.157,"y":6.731}]},
 "mark":{"type":"text","font":"Liberation Serif","fontStyle":"italic","fontSize":50,"align":"left","baseline":"alphabetic","color":"black"},
 "encoding":{"x":{"field":"x","type":"quantitative","title":null},"y":{"field":"y","type":"quantitative","title":null},"text":{"field":"t"}}},
{"data":{"values":[{"t":"c","x":1.98,"y":11.24},{"t":"c","x":3.843,"y":6.546}]},
 "mark":{"type":"text","font":"Liberation Serif","fontStyle":"italic","fontSize":34,"align":"left","baseline":"alphabetic","color":"black"},
 "encoding":{"x":{"field":"x","type":"quantitative","title":null},"y":{"field":"y","type":"quantitative","title":null},"text":{"field":"t"}}},
{"data":{"values":[{"t":"−","x":3.858,"y":7.115},{"t":"3","x":2.378,"y":4.86}]},
 "mark":{"type":"text","font":"Liberation Serif","fontSize":35,"align":"left","baseline":"alphabetic","color":"black"},
 "encoding":{"x":{"field":"x","type":"quantitative","title":null},"y":{"field":"y","type":"quantitative","title":null},"text":{"field":"t"}}},
{"data":{"values":[{"t":"4 × 32","x":1.696,"y":4.512}]},
 "mark":{"type":"text","font":"Liberation Serif","fontSize":53,"align":"left","baseline":"alphabetic","color":"black"},
 "encoding":{"x":{"field":"x","type":"quantitative","title":null},"y":{"field":"y","type":"quantitative","title":null},"text":{"field":"t"}}},
{"data":{"values":[{"t":"rT","x":3.564,"y":4.299}]},
 "mark":{"type":"text","font":"Liberation Serif","fontStyle":"italic","fontSize":58,"align":"left","baseline":"alphabetic","color":"black"},
 "encoding":{"x":{"field":"x","type":"quantitative","title":null},"y":{"field":"y","type":"quantitative","title":null},"text":{"field":"t"}}}
]},
{"data":{"name":"pts"},
 "mark":{"type":"point","opacity":0},
 "encoding":{
  "x":{"field":"x","type":"quantitative","title":null,"scale":{"domain":[0.22,4],"nice":false,"zero":false},"axis":{"orient":"top","values":[0.5,1,1.5,2,2.5,3,3.5,4],"labels":false}},
  "y":{"field":"y","type":"quantitative","title":null,"scale":{"domain":[4,14],"nice":false,"zero":false},"axis":{"orient":"right","values":[4,6,8,10,12,14],"labels":false}}
 }}
],
"resolve":{"axis":{"x":"independent","y":"independent"}}
}
